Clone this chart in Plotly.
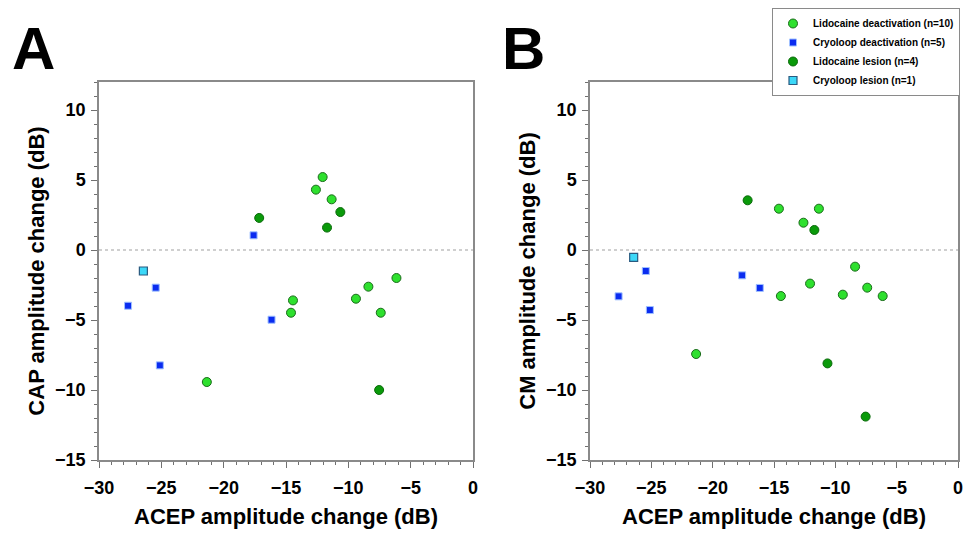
import plotly.graph_objects as go

# ACEP change (x) shared by both panels, CAP (panel A) and CM (panel B) changes
lido_deact_x = [-21.35, -14.6, -14.44, -12.6, -12.06, -11.34, -9.39, -8.39, -7.4, -6.14]
lido_deact_cap = [-9.43, -4.48, -3.6, 4.31, 5.21, 3.62, -3.48, -2.62, -4.48, -2.0]
lido_deact_cm = [-7.43, 2.95, -3.29, 1.95, -2.4, 2.95, -3.19, -1.19, -2.69, -3.29]

cryo_deact_x = [-27.67, -25.45, -25.12, -17.6, -16.16]
cryo_deact_cap = [-3.98, -2.69, -8.24, 1.05, -4.98]
cryo_deact_cm = [-3.31, -1.5, -4.29, -1.81, -2.71]

lido_les_x = [-17.15, -11.71, -10.64, -7.53]
lido_les_cap = [2.29, 1.6, 2.71, -10.0]
lido_les_cm = [3.55, 1.43, -8.1, -11.9]

cryo_les_x = [-26.44]
cryo_les_cap = [-1.5]
cryo_les_cm = [-0.52]

FONT = "Liberation Sans, Arial, sans-serif"
# page body has an 8px margin, keep the figure inside the window (no scrollbars)
W, H = 956, 521

styles = [
    ("Lidocaine deactivation (n=10)", lido_deact_x, lido_deact_cap, lido_deact_cm,
     dict(symbol="circle", size=9, color="#2ee02e", line=dict(color="#1a6b1a", width=1))),
    ("Cryoloop deactivation (n=5)", cryo_deact_x, cryo_deact_cap, cryo_deact_cm,
     dict(symbol="square", size=7, color="#0a2cf0", line=dict(color="#9fc0ff", width=1))),
    ("Lidocaine lesion (n=4)", lido_les_x, lido_les_cap, lido_les_cm,
     dict(symbol="circle", size=9, color="#0a9a0a", line=dict(color="#0a6a0a", width=1))),
    ("Cryoloop lesion (n=1)", cryo_les_x, cryo_les_cap, cryo_les_cm,
     dict(symbol="square", size=8, color="#3cd8f8", line=dict(color="#2a5a80", width=1.2))),
]

fig = go.Figure()
for name, xs, cap, cm, mk in styles:
    fig.add_trace(go.Scatter(x=xs, y=cap, mode="markers", name=name, marker=mk,
                             xaxis="x", yaxis="y", showlegend=True))
    fig.add_trace(go.Scatter(x=xs, y=cm, mode="markers", name=name, marker=mk,
                             xaxis="x2", yaxis="y2", showlegend=False))

ydom = [69 / H, 447 / H]

def xax(dom):
    return dict(domain=dom, range=[-30, 0], dtick=5, tick0=0, showgrid=False, zeroline=False,
                automargin=False,
                showline=True, linecolor="#8a8a8a", linewidth=1.5, mirror=True,
                ticks="outside", ticklen=6, tickcolor="#707070", ticklabelstandoff=5,
                minor=dict(dtick=1, ticks="outside", ticklen=3, tickcolor="#707070"),
                tickfont=dict(family=FONT, size=18, color="black", weight="bold"),
                title=dict(text="ACEP amplitude change (dB)", standoff=12,
                           font=dict(family=FONT, size=22, color="black", weight="bold")))

def yax(title, anchor):
    return dict(domain=ydom, range=[-15, 12], tickvals=[-15, -10, -5, 0, 5, 10], anchor=anchor,
                showgrid=False, zeroline=False, automargin=False,
                showline=True, linecolor="#8a8a8a", linewidth=1.5, mirror=True,
                ticks="outside", ticklen=6, tickcolor="#707070", ticklabelstandoff=2,
                minor=dict(dtick=1, ticks="outside", ticklen=3, tickcolor="#707070"),
                tickfont=dict(family=FONT, size=18, color="black", weight="bold"),
                title=dict(text=title, standoff=4,
                           font=dict(family=FONT, size=22, color="black", weight="bold")))

xa = xax([91 / W, 465 / W])
xa["anchor"] = "y"
xb = xax([582 / W, 950 / W])
xb["anchor"] = "y2"

fig.update_layout(
    width=W, height=H, margin=dict(l=0, r=0, t=0, b=0, autoexpand=False),
    paper_bgcolor="white", plot_bgcolor="white",
    xaxis=xa, xaxis2=xb,
    yaxis=yax("CAP amplitude change (dB)", "x"),
    yaxis2=yax("CM amplitude change (dB)", "x2"),
    legend=dict(x=764 / W, y=1, xanchor="left", yanchor="top",
                bordercolor="#8a8a8a", borderwidth=1, bgcolor="white",
                font=dict(family=FONT, size=10, color="black", weight="bold"),
                tracegroupgap=0),
)

for xr, line_y in (("x", "y"), ("x2", "y2")):
    fig.add_shape(type="line", xref=xr, yref=line_y, x0=-30, x1=0, y0=0, y1=0,
                  line=dict(color="#a0a0a0", width=1.2, dash="dot"), layer="below")

for label, px in (("A", 25), ("B", 515)):
    fig.add_annotation(text=label, xref="paper", yref="paper", x=px / W, y=1 - 40 / H,
                       showarrow=False, xanchor="center", yanchor="middle",
                       font=dict(family=FONT, size=60, color="black", weight="bold"))

fig.write_html("out.html")
